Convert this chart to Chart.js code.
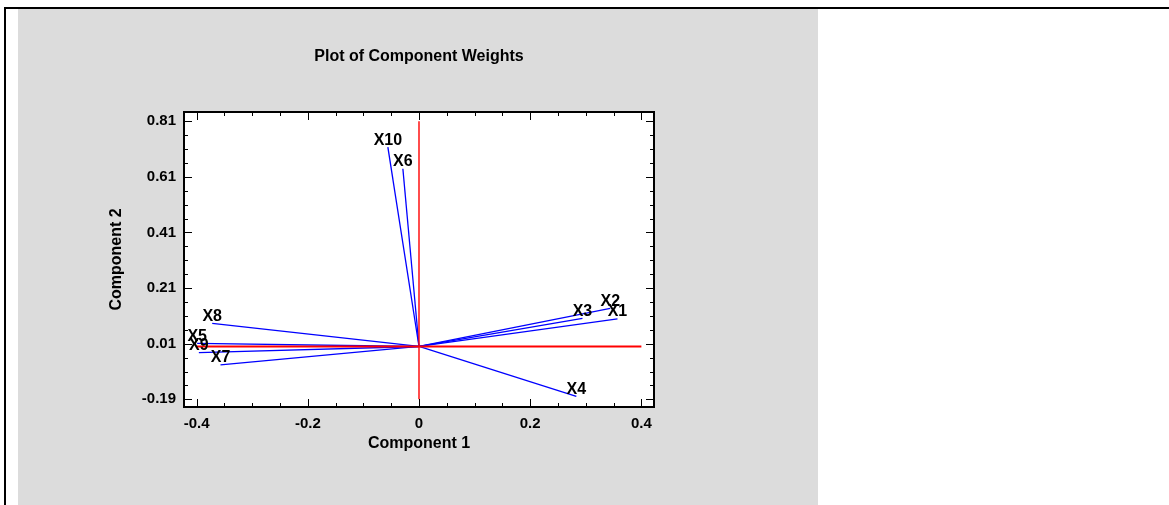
<!DOCTYPE html>
<html>
<head>
<meta charset="utf-8">
<script src="https://cdn.jsdelivr.net/npm/chart.js@4.4.1/dist/chart.umd.min.js"></script>
<style>
  body { margin: 0; background: #fff; width: 1169px; height: 505px; overflow: hidden; position: relative; }
  #frame { position: absolute; left: 4px; top: 7px; width: 1165px; height: 498px; border-top: 2px solid #000; border-left: 2px solid #000; box-sizing: border-box; }
  #panel { position: absolute; left: 18px; top: 9px; width: 800px; height: 496px; background: #dcdcdc; }
  #panel canvas { display: block; }
</style>
</head>
<body>
<div id="frame"></div>
<div id="panel"><canvas id="myChart" width="800" height="496"></canvas></div>
<script>
// component weights
const variables = ['X1', 'X2', 'X3', 'X4', 'X5', 'X6', 'X7', 'X8', 'X9', 'X10'];
const comp1 = [0.357, 0.344, 0.294, 0.283, -0.399, -0.029, -0.357, -0.372, -0.396, -0.056];
const comp2 = [0.099, 0.137, 0.101, -0.179, 0.011, 0.639, -0.066, 0.083, -0.022, 0.717];

const xTicks = [-0.4, -0.2, 0, 0.2, 0.4];
const yTicks = [-0.19, 0.01, 0.21, 0.41, 0.61, 0.81];
const minorStep = 0.05;

// red reference lines through the origin
const refX = [-0.4, 0.4];
const refY = [-0.19, 0.81];

const font = 'Liberation Sans, Arial, sans-serif';

var datasets = [
    { data: refX.map(v => ({ x: v, y: 0 })), borderColor: '#ff0000', borderWidth: 2 },
    { data: refY.map(v => ({ x: 0, y: v })), borderColor: '#ff0000', borderWidth: 1.4 }
];
for (let i = 0; i < variables.length; i++) {
    datasets.push({
        label: variables[i],
        data: [{ x: 0, y: 0 }, { x: comp1[i], y: comp2[i] }],
        borderColor: '#0000ff',
        borderWidth: 1.3
    });
}
datasets.forEach(d => { d.showLine = true; d.pointRadius = 0; d.fill = false; });

// white plot area, frame, inward ticks and vector labels
const plotDeco = {
    id: 'plotDeco',
    beforeDraw(chart) {
        const a = chart.chartArea, ctx = chart.ctx;
        ctx.save();
        ctx.fillStyle = '#fff';
        ctx.fillRect(a.left, a.top, a.right - a.left, a.bottom - a.top);
        ctx.restore();
    },
    afterDraw(chart) {
        const a = chart.chartArea, ctx = chart.ctx;
        const sx = chart.scales.x, sy = chart.scales.y;
        ctx.save();
        ctx.strokeStyle = '#000';
        ctx.lineWidth = 1;
        ctx.beginPath();
        for (let k = 0; k <= 16; k++) {
            const v = xTicks[0] + k * minorStep;
            const px = Math.round(sx.getPixelForValue(v)) + 0.5;
            const len = k % 4 == 0 ? 8 : 4;
            ctx.moveTo(px, a.bottom); ctx.lineTo(px, a.bottom - len);
            ctx.moveTo(px, a.top); ctx.lineTo(px, a.top + len);
        }
        for (let k = 0; k <= 20; k++) {
            const v = yTicks[0] + k * minorStep;
            const py = Math.round(sy.getPixelForValue(v)) + 0.5;
            const len = k % 4 == 0 ? 8 : 4;
            ctx.moveTo(a.left, py); ctx.lineTo(a.left + len, py);
            ctx.moveTo(a.right, py); ctx.lineTo(a.right - len, py);
        }
        ctx.stroke();
        ctx.lineWidth = 2;
        ctx.strokeRect(a.left, a.top, a.right - a.left, a.bottom - a.top);

        ctx.fillStyle = '#000';
        ctx.font = 'bold 16px ' + font;
        ctx.textAlign = 'center';
        ctx.textBaseline = 'alphabetic';
        for (let i = 0; i < variables.length; i++) {
            const px = sx.getPixelForValue(comp1[i]);
            const py = sy.getPixelForValue(comp2[i]);
            ctx.fillText(variables[i], px, py - 2.5);
        }
        ctx.restore();
    }
};

var myChart = new Chart('myChart', {
    type: 'scatter',
    data: { datasets: datasets },
    options: {
        responsive: false,
        animation: false,
        layout: { padding: { left: 0, right: 164, top: 0, bottom: 0 } },
        plugins: {
            legend: { display: false },
            tooltip: { enabled: false },
            title: {
                display: true,
                text: 'Plot of Component Weights',
                color: '#000',
                fullSize: false,
                font: { family: font, size: 16, weight: 'bold', lineHeight: 1.2 },
                padding: { top: 37.7, bottom: 46.1 }
            }
        },
        scales: {
            x: {
                type: 'linear',
                min: -0.4227,
                max: 0.4227,
                afterBuildTicks: s => { s.ticks = xTicks.map(v => ({ value: v })); },
                afterFit: s => { s.height = 98; },
                grid: { display: false, drawTicks: false },
                border: { display: false },
                ticks: {
                    color: '#000',
                    padding: 7.8,
                    maxRotation: 0,
                    font: { family: font, size: 15, weight: 'bold' },
                    callback: v => String(v)
                },
                title: {
                    display: true,
                    text: 'Component 1',
                    color: '#000',
                    font: { family: font, size: 16, weight: 'bold', lineHeight: 1.2 },
                    padding: { top: 0, bottom: 51.6 }
                }
            },
            y: {
                type: 'linear',
                min: -0.2176,
                max: 0.843,
                afterBuildTicks: s => { s.ticks = yTicks.map(v => ({ value: v })); },
                afterFit: s => { s.width = 166; },
                grid: { display: false, drawTicks: false },
                border: { display: false },
                ticks: {
                    color: '#000',
                    padding: 8,
                    font: { family: font, size: 15, weight: 'bold' },
                    callback: v => String(v)
                },
                title: {
                    display: true,
                    text: 'Component 2',
                    color: '#000',
                    font: { family: font, size: 16, weight: 'bold', lineHeight: 1.2 },
                    padding: { top: 88.7, bottom: 0 }
                }
            }
        }
    },
    plugins: [plotDeco]
});
</script>
</body>
</html>
